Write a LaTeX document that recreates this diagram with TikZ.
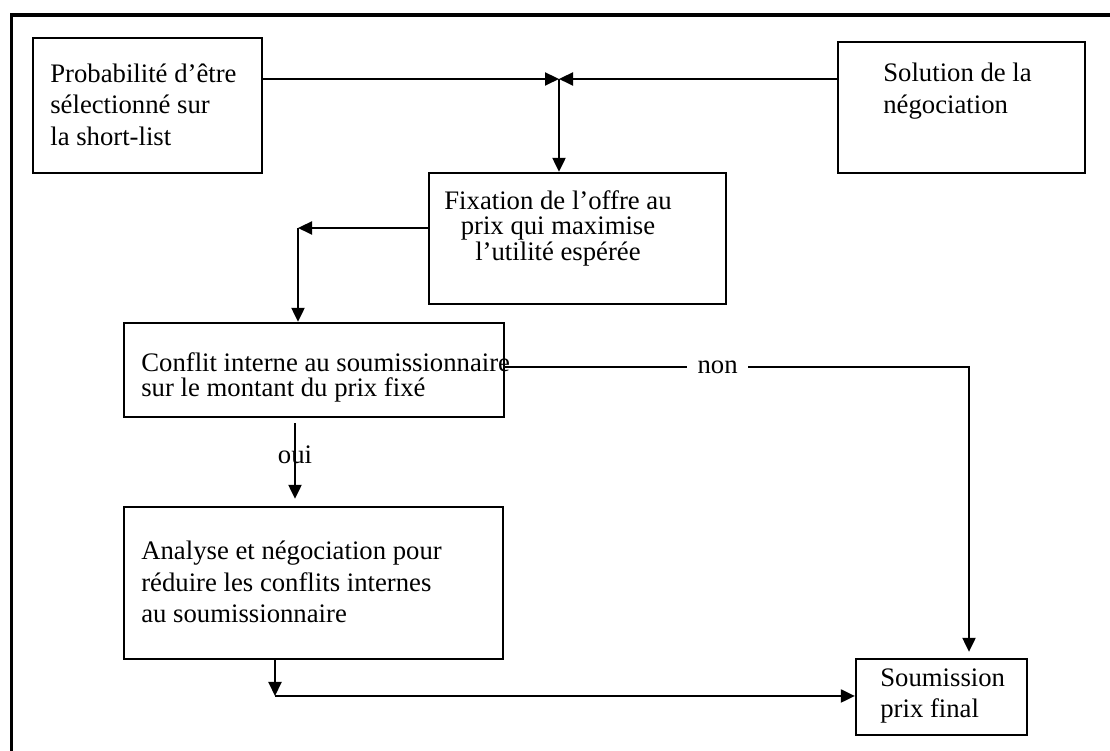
\documentclass[tikz,border=0pt]{standalone}
\usepackage{fontspec}
\setmainfont{Liberation Serif}
\usetikzlibrary{arrows.meta}
\begin{document}
\begin{tikzpicture}[
    frame/.style={draw=black, line width=1.8pt},
    stage/.style={draw=black, line width=1.3pt, inner sep=0pt},
    stage text/.style={inner sep=0pt, align=left,
        font=\fontsize{15.2}{17.9}\selectfont},
    tight text/.style={stage text, font=\fontsize{15.2}{14.5}\selectfont},
    link/.style={draw=black, line width=1.2pt,
        -{Triangle[length=0.28cm, width=0.26cm]}},
    answer/.style={font=\fontsize{15.2}{17.9}\selectfont, inner sep=1pt}
]
    \path[use as bounding box] (0,0) rectangle (22.2,15.02);

    % The outer frame, cut at the bottom and on the right.
    \draw[frame] (0.23,0) -- (0.23,14.72) -- (22.2,14.72);

    % The stages.
    \node[stage, minimum width=4.58cm, minimum height=2.70cm] (prob) at (2.95,12.91) {};
    \node[stage, minimum width=4.94cm, minimum height=2.62cm] (sol) at (19.23,12.87) {};
    \node[stage, minimum width=5.94cm, minimum height=2.62cm] (fix) at (11.55,10.25) {};
    \node[stage, minimum width=7.60cm, minimum height=1.88cm] (conf) at (6.28,7.62) {};
    \node[stage, minimum width=7.58cm, minimum height=3.04cm] (ana) at (6.27,3.36) {};
    \node[stage, minimum width=3.42cm, minimum height=1.52cm] (soum) at (18.83,1.08) {};

    \node[stage text, anchor=west] (probtext) at (1.00,12.93)
        {Probabilité d’être\\sélectionné sur\\la short-list};
    \node[stage text, anchor=west] (soltext) at (17.66,13.20)
        {Solution de la\\négociation};
    \node[tight text, align=center] (fixtext) at (11.16,10.46)
        {Fixation de l’offre au\\prix qui maximise\\l’utilité espérée};
    \node[tight text, anchor=west] (conftext) at (2.82,7.47)
        {Conflit interne au soumissionnaire\\sur le montant du prix fixé};
    \node[stage text, anchor=west] (anatext) at (2.82,3.38)
        {Analyse et négociation pour\\réduire les conflits internes\\au soumissionnaire};
    \node[stage text, anchor=west] (soumtext) at (17.60,1.10)
        {Soumission\\prix final};

    % Bends and meeting points of the links.
    \coordinate (meet) at (11.18,13.44);
    \coordinate (bend) at (5.96,10.46);
    \coordinate (nonbend) at (19.38,7.68);
    \coordinate (ouix) at (5.90,0);
    \coordinate (low) at (5.50,1.10);

    \draw[link] (meet -| prob.east) -- (meet);
    \draw[link] (meet -| sol.west) -- (meet);
    \draw[link] (meet) -- (meet |- fix.north);

    \draw[link] (bend -| fix.west) -- (bend);
    \draw[link] (bend) -- (bend |- conf.north);

    \draw[link] (nonbend -| conf.east)
        -- node[answer, pos=0.458, fill=white, inner xsep=6pt] (non) {non} (nonbend)
        -- ([yshift=0.12cm]nonbend |- soum.north);

    \draw[link, shorten <=0.1cm, shorten >=0.14cm] (conf.south -| ouix)
        -- node[answer, pos=0.42] (oui) {oui} (ana.north -| ouix);

    \draw[link] (ana.south -| low) -- (low);
    \draw[link] (low) -- (low -| soum.west);
\end{tikzpicture}
\end{document}
